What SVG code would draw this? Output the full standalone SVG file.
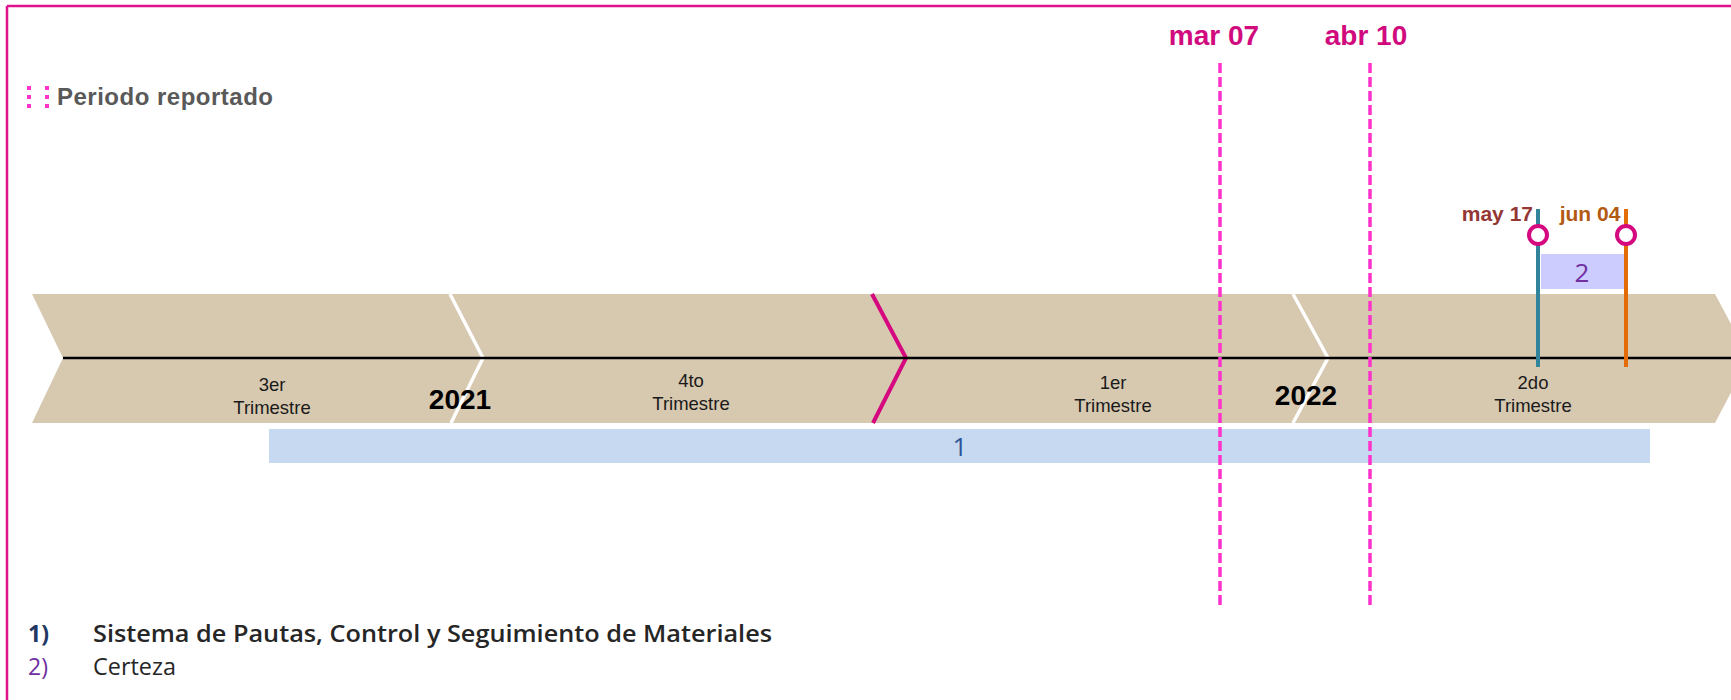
<svg xmlns="http://www.w3.org/2000/svg" width="1731" height="700" viewBox="0 0 1731 700">
  <style>
    .q { font-family: "Liberation Sans", Arial, sans-serif; font-size: 18.5px; fill: #1a1a1a; text-anchor: middle; }
    .yr { font-family: "Liberation Sans", Arial, sans-serif; font-size: 28px; font-weight: bold; fill: #000; text-anchor: middle; }
    .cut { font-family: "Liberation Sans", Arial, sans-serif; font-size: 28px; font-weight: bold; fill: #d10a7e; text-anchor: middle; }
    .ms { font-family: "Liberation Sans", Arial, sans-serif; font-size: 21px; font-weight: bold; }
    .num { font-family: "Open Sans", "Liberation Sans", sans-serif; font-size: 26px; text-anchor: middle; }
    .leg { font-family: "Open Sans", "Liberation Sans", sans-serif; font-size: 23px; }
    .dash { stroke: #ff33cc; stroke-width: 3.5; stroke-dasharray: 10 4; fill: none; }
    .ring { fill: #fff; stroke: #d6087f; stroke-width: 4; }
  </style>

  <g id="frame">
    <line x1="7" y1="6" x2="1731" y2="6" stroke="#e0138c" stroke-width="2.5"/>
    <line x1="7" y1="6" x2="7" y2="700" stroke="#e0138c" stroke-width="2.5"/>
  </g>

  <g id="legend-periodo">
    <line x1="29" y1="86" x2="29" y2="109" stroke="#ff33cc" stroke-width="4" stroke-dasharray="4 5"/>
    <line x1="47" y1="86" x2="47" y2="109" stroke="#ff33cc" stroke-width="4" stroke-dasharray="4 5"/>
    <text x="57" y="105" font-family="'Liberation Sans', Arial, sans-serif" font-size="24" font-weight="bold" fill="#595959" textLength="216" lengthAdjust="spacing">Periodo reportado</text>
  </g>

  <g id="timeline-band">
    <polygon points="32,294 1715,294 1749,358 1715,423 32,423 63,358" fill="#d7c8b0"/>
    <polyline points="450,294 483,358 451,423" fill="none" stroke="#fff" stroke-width="3.5"/>
    <polyline points="872,294 906,358 873,423" fill="none" stroke="#d6087f" stroke-width="4"/>
    <polyline points="1293,294 1328,358 1293,423" fill="none" stroke="#fff" stroke-width="3.5"/>
  </g>

  <g id="bar-1">
    <rect x="269" y="429" width="1381" height="34" fill="#c6d9f0"/>
    <text class="num" x="960" y="456" fill="#2f5597">1</text>
  </g>

  <g id="bar-2">
    <rect x="1541" y="254" width="83" height="35" fill="#ccccff"/>
    <text class="num" x="1582" y="282" fill="#7030a0">2</text>
  </g>

  <g id="axis">
    <line x1="63" y1="358" x2="1731" y2="358" stroke="#000" stroke-width="2.5"/>
  </g>

  <g id="quarters">
    <text class="q" x="272" y="391">3er</text>
    <text class="q" x="272" y="414">Trimestre</text>
    <text class="q" x="691" y="387">4to</text>
    <text class="q" x="691" y="410">Trimestre</text>
    <text class="q" x="1113" y="389">1er</text>
    <text class="q" x="1113" y="412">Trimestre</text>
    <text class="q" x="1533" y="389">2do</text>
    <text class="q" x="1533" y="412">Trimestre</text>
  </g>

  <g id="years">
    <text class="yr" x="460" y="409">2021</text>
    <text class="yr" x="1306" y="405">2022</text>
  </g>

  <g id="connectors">
    <line class="dash" x1="1220" y1="63" x2="1220" y2="607"/>
    <line class="dash" x1="1370" y1="63" x2="1370" y2="607"/>
    <line x1="1538" y1="209" x2="1538" y2="367" stroke="#31849b" stroke-width="4"/>
    <line x1="1626" y1="209" x2="1626" y2="367" stroke="#e36c09" stroke-width="4"/>
  </g>

  <g id="cut-mar07">
    <text class="cut" x="1214" y="45">mar 07</text>
  </g>
  <g id="cut-abr10">
    <text class="cut" x="1366" y="45">abr 10</text>
  </g>

  <g id="milestone-may17">
    <circle class="ring" cx="1538" cy="235" r="9"/>
    <text class="ms" x="1533" y="221" fill="#943634" text-anchor="end">may 17</text>
  </g>
  <g id="milestone-jun04">
    <circle class="ring" cx="1626" cy="235" r="9"/>
    <text class="ms" x="1590" y="221" fill="#b35a12" text-anchor="middle">jun 04</text>
  </g>

  <g id="legend">
    <text class="leg" x="28" y="642" font-weight="bold" fill="#1f3864">1)</text>
    <text class="leg" x="93" y="642" font-weight="600" fill="#262626" textLength="679" lengthAdjust="spacingAndGlyphs">Sistema de Pautas, Control y Seguimiento de Materiales</text>
    <text class="leg" x="28" y="675" fill="#7030a0">2)</text>
    <text class="leg" x="93" y="675" fill="#262626" textLength="83" lengthAdjust="spacingAndGlyphs">Certeza</text>
  </g>
</svg>
